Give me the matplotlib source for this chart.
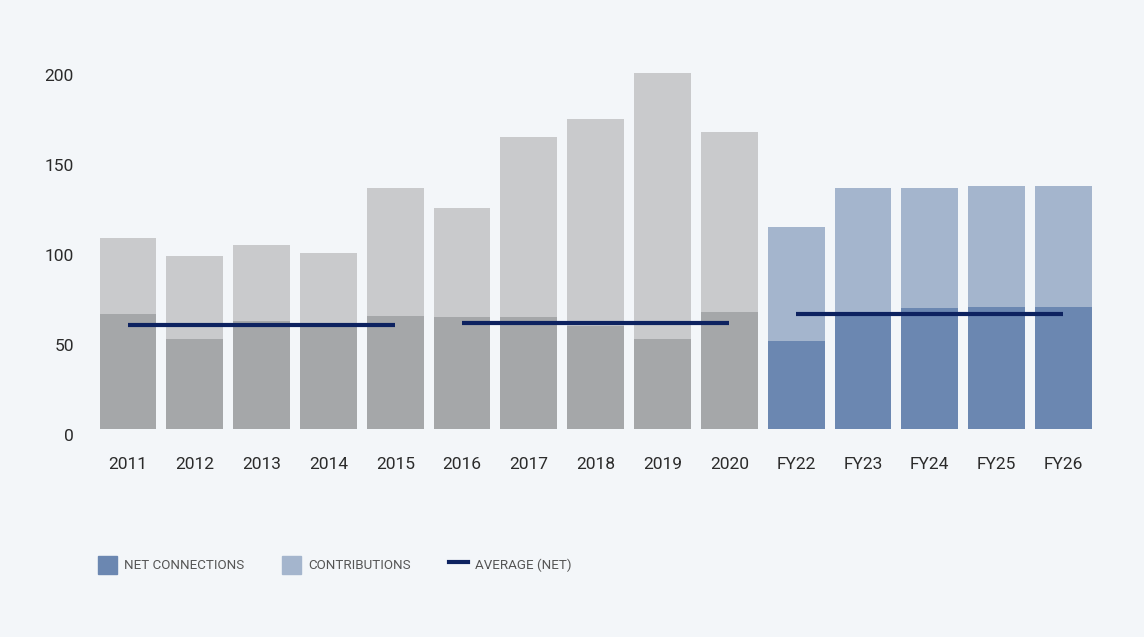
import matplotlib.pyplot as plt
import matplotlib.transforms as mtransforms
from matplotlib.patches import Patch
from matplotlib.lines import Line2D

plt.rcParams['font.family'] = ['Roboto', 'DejaVu Sans']

years = ['2011', '2012', '2013', '2014', '2015', '2016', '2017', '2018', '2019', '2020',
         'FY22', 'FY23', 'FY24', 'FY25', 'FY26']
net = [64, 50, 60, 59, 63, 62, 62, 57, 50, 65, 49, 65, 67, 68, 68]
total = [106, 96, 102, 98, 134, 123, 162, 172, 198, 165, 112, 134, 134, 135, 135]
contrib = [t - n for t, n in zip(total, net)]

# average of net connections for each period (first bar idx, last bar idx, value)
avg_periods = [(0, 4, 58), (5, 9, 59), (10, 14, 64)]

yticks = [0, 50, 100, 150, 200]

bg = '#f3f6f9'
gray_net, gray_con = '#a5a7a9', '#c9cacc'
blue_net, blue_con = '#6b87b1', '#a4b5cd'
navy = '#0d2260'

fig = plt.figure(figsize=(11.44, 6.37), dpi=100, facecolor=bg)
ax = fig.add_axes([0.0827, 0.3265, 0.876, 0.5934])
ax.set_facecolor(bg)

x = list(range(len(years)))
is_fc = [y.startswith('FY') for y in years]
c_net = [blue_net if f else gray_net for f in is_fc]
c_con = [blue_con if f else gray_con for f in is_fc]

ax.bar(x, net, width=0.85, color=c_net, linewidth=0)
ax.bar(x, contrib, bottom=net, width=0.85, color=c_con, linewidth=0)

for a, b, v in avg_periods:
    ax.plot([a, b], [v, v], color=navy, lw=3.0, solid_capstyle='butt', zorder=3)

ax.set_xlim(-0.5, len(years) - 0.5)
ax.set_ylim(0, 210)
ax.set_xticks(x)
ax.set_xticklabels(years)
ax.set_yticks(yticks)
ax.set_yticklabels([str(t) for t in yticks])
ax.tick_params(axis='x', length=0, pad=20, labelsize=12.5, labelcolor='#2b2b2b')
ax.tick_params(axis='y', length=0, pad=15, labelsize=12.5, labelcolor='#2b2b2b')
shift = mtransforms.ScaledTranslation(0, -6 / 100, fig.dpi_scale_trans)
for lbl in ax.get_yticklabels():
    lbl.set_transform(lbl.get_transform() + shift)
for s in ax.spines.values():
    s.set_visible(False)

handles = [Patch(color=blue_net, label='NET CONNECTIONS'),
           Patch(color=blue_con, label='CONTRIBUTIONS'),
           Line2D([], [], color=navy, lw=3, label='AVERAGE (NET)')]
leg = fig.legend(handles=handles, loc='center left', bbox_to_anchor=(98 / 1144, 1 - 565 / 637),
                 ncol=3, frameon=False, fontsize=9.6, handlelength=1.43, handleheight=1.8,
                 handletextpad=0.53, columnspacing=2.85, borderaxespad=0, borderpad=0)
for t in leg.get_texts():
    t.set_color('#555555')

fig.savefig('out.png', dpi=100, facecolor=bg)
